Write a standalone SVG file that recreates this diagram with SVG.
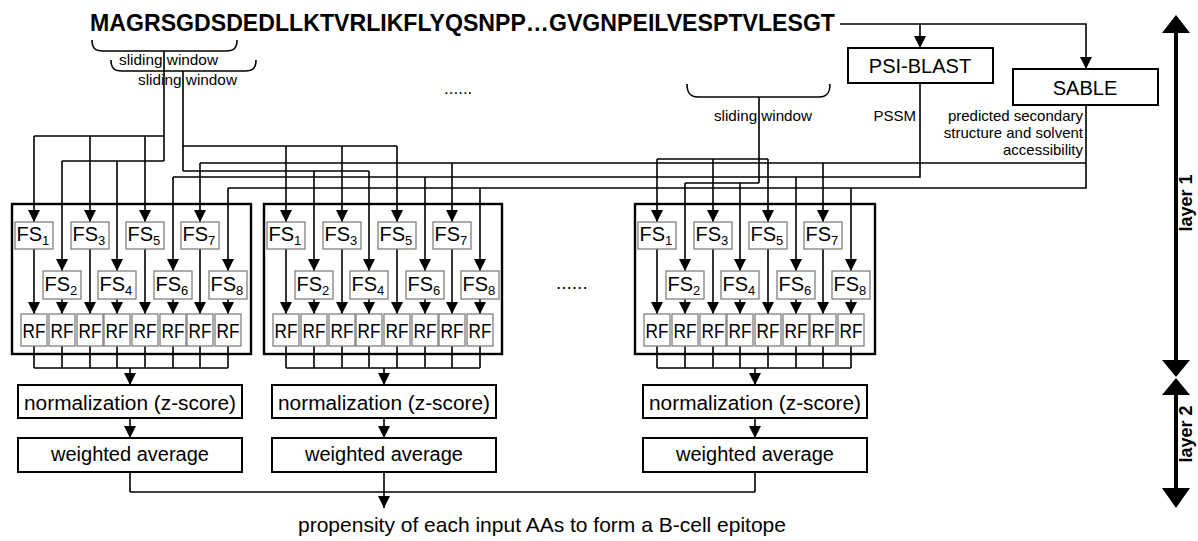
<svg xmlns="http://www.w3.org/2000/svg" width="1198" height="541" viewBox="0 0 1198 541">
<style>
text{font-family:"Liberation Sans",Arial,sans-serif;fill:#000}
.w{stroke:#000;stroke-width:1.6;fill:none}
.a{marker-end:url(#ah)}
.outer{fill:none;stroke:#000;stroke-width:2.4}
.fs{fill:#fff;stroke:#808080;stroke-width:1.3}
.blk{fill:#fff;stroke:#000;stroke-width:2}
.fst{font-size:20px}
.sub{font-size:13px}
.rft{font-size:20px;text-anchor:middle}
.sm{font-size:15px}
.big{font-size:20px;text-anchor:middle}
.lay{font-size:18px;font-weight:bold;text-anchor:middle}
</style>
<defs>
<marker id="ah" markerUnits="userSpaceOnUse" markerWidth="12" markerHeight="12" refX="11" refY="5.5" orient="auto" viewBox="0 0 11 11">
<path d="M0,0 L11,5.5 L0,11 z" fill="#000"/>
</marker>
</defs>
<rect width="1198" height="541" fill="#fff"/>

<g id="sequence">
<text x="90" y="31" font-size="23" font-weight="bold" textLength="745" lengthAdjust="spacingAndGlyphs">MAGRSGDSDEDLLKTVRLIKFLYQSNPP…GVGNPEILVESPTVLESGT</text>
</g>

<g id="windows">
<path class="w" d="M92,40 C92,48 95,51 103,51 H226 C234,51 237,48 237,40"/>
<text class="sm" x="119" y="65" textLength="99" lengthAdjust="spacingAndGlyphs">sliding window</text>
<path class="w" d="M111,60 C111,68 114,71 122,71 H245 C253,71 256,68 256,60"/>
<text class="sm" x="138" y="85" textLength="99" lengthAdjust="spacingAndGlyphs">sliding window</text>
<path class="w" d="M687,84 C687,93 690,97 698,97 H819 C827,97 830,93 830,84"/>
<text class="sm" x="714" y="121" textLength="98" lengthAdjust="spacingAndGlyphs">sliding window</text>
<text x="444" y="94" font-size="17">......</text>
<text x="556" y="289" font-size="19">......</text>
</g>

<g id="psiblast">
<rect class="blk" x="848" y="48" width="145" height="35"/>
<text class="big" x="920" y="73">PSI-BLAST</text>
<text class="sm" x="916" y="121" text-anchor="end">PSSM</text>
</g>

<g id="sable">
<rect class="blk" x="1013" y="69" width="145" height="36"/>
<text class="big" x="1085" y="95" font-size="21">SABLE</text>
<text class="sm" x="1083" y="121" text-anchor="end">predicted secondary</text>
<text class="sm" x="1083" y="138" text-anchor="end">structure and solvent</text>
<text class="sm" x="1083" y="155" text-anchor="end">accessibility</text>
</g>

<g id="connectors">
<path class="w" d="M840,24 H1086 V69" marker-end="url(#ah)"/>
<path class="w a" d="M920,24 V48"/>
<path class="w" d="M164,51 V161 M34,136 H164 M62,161 H164"/>
<path class="w" d="M183,71 V171 M183,146 H397 M183,171 H369"/>
<path class="w" d="M759,97 V183 M657,159 H768 M685,183 H759"/>
<path class="w" d="M920,83 V177 H173"/>
<path class="w" d="M1086,105 V188 H228 M200,163 H1086"/>
<path class="w a" d="M34,136 V222"/><path class="w a" d="M62,161 V271"/>
<path class="w a" d="M90,136 V222"/><path class="w a" d="M117,161 V271"/>
<path class="w a" d="M145,136 V222"/><path class="w a" d="M173,177 V271"/>
<path class="w a" d="M200,163 V222"/><path class="w a" d="M228,188 V271"/>
<path class="w a" d="M286,146 V222"/><path class="w a" d="M314,171 V271"/>
<path class="w a" d="M342,146 V222"/><path class="w a" d="M369,171 V271"/>
<path class="w a" d="M397,146 V222"/><path class="w a" d="M425,177 V271"/>
<path class="w a" d="M452,163 V222"/><path class="w a" d="M480,188 V271"/>
<path class="w a" d="M657,159 V222"/><path class="w a" d="M685,183 V271"/>
<path class="w a" d="M713,159 V222"/><path class="w a" d="M740,183 V271"/>
<path class="w a" d="M768,159 V222"/><path class="w a" d="M796,177 V271"/>
<path class="w a" d="M823,163 V222"/><path class="w a" d="M851,188 V271"/>
<path class="w a" d="M34,249 V314"/><path class="w a" d="M62,299 V314"/><path class="w a" d="M90,249 V314"/><path class="w a" d="M117,299 V314"/>
<path class="w a" d="M145,249 V314"/><path class="w a" d="M173,299 V314"/><path class="w a" d="M200,249 V314"/><path class="w a" d="M228,299 V314"/>
<path class="w a" d="M286,249 V314"/><path class="w a" d="M314,299 V314"/><path class="w a" d="M342,249 V314"/><path class="w a" d="M369,299 V314"/>
<path class="w a" d="M397,249 V314"/><path class="w a" d="M425,299 V314"/><path class="w a" d="M452,249 V314"/><path class="w a" d="M480,299 V314"/>
<path class="w a" d="M657,249 V314"/><path class="w a" d="M685,299 V314"/><path class="w a" d="M713,249 V314"/><path class="w a" d="M740,299 V314"/>
<path class="w a" d="M768,249 V314"/><path class="w a" d="M796,299 V314"/><path class="w a" d="M823,249 V314"/><path class="w a" d="M851,299 V314"/>
<path class="w" d="M34,346 V368 M62,346 V368 M90,346 V368 M117,346 V368 M145,346 V368 M173,346 V368 M200,346 V368 M228,346 V368 M34,368 H228"/>
<path class="w" d="M286,346 V368 M314,346 V368 M342,346 V368 M369,346 V368 M397,346 V368 M425,346 V368 M452,346 V368 M480,346 V368 M286,368 H480"/>
<path class="w" d="M657,346 V368 M685,346 V368 M713,346 V368 M740,346 V368 M768,346 V368 M796,346 V368 M823,346 V368 M851,346 V368 M657,368 H851"/>
<path class="w a" d="M130,368 V385"/><path class="w a" d="M384,368 V385"/><path class="w a" d="M755,368 V385"/>
<path class="w a" d="M130,418 V438"/><path class="w a" d="M384,418 V438"/><path class="w a" d="M755,418 V438"/>
<path class="w" d="M130,472 V492 M384,472 V492 M755,472 V492 M130,492 H755"/>
<path class="w a" d="M384,492 V508"/>
</g>

<g id="box1"><rect class="outer" x="12" y="204" width="239" height="150"/></g>
<g id="box2"><rect class="outer" x="264" y="204" width="238" height="150"/></g>
<g id="box3"><rect class="outer" x="635" y="204" width="240" height="150"/></g>

<g id="b1-fs1"><rect class="fs" x="15" y="222" width="38" height="27"/><text class="fst" x="16.5" y="241">FS<tspan class="sub" dy="4">1</tspan></text></g>
<g id="b1-fs2"><rect class="fs" x="43" y="271" width="38" height="28"/><text class="fst" x="44.5" y="291">FS<tspan class="sub" dy="4">2</tspan></text></g>
<g id="b1-fs3"><rect class="fs" x="71" y="222" width="38" height="27"/><text class="fst" x="72.5" y="241">FS<tspan class="sub" dy="4">3</tspan></text></g>
<g id="b1-fs4"><rect class="fs" x="98" y="271" width="38" height="28"/><text class="fst" x="99.5" y="291">FS<tspan class="sub" dy="4">4</tspan></text></g>
<g id="b1-fs5"><rect class="fs" x="126" y="222" width="38" height="27"/><text class="fst" x="127.5" y="241">FS<tspan class="sub" dy="4">5</tspan></text></g>
<g id="b1-fs6"><rect class="fs" x="154" y="271" width="38" height="28"/><text class="fst" x="155.5" y="291">FS<tspan class="sub" dy="4">6</tspan></text></g>
<g id="b1-fs7"><rect class="fs" x="181" y="222" width="38" height="27"/><text class="fst" x="182.5" y="241">FS<tspan class="sub" dy="4">7</tspan></text></g>
<g id="b1-fs8"><rect class="fs" x="209" y="271" width="38" height="28"/><text class="fst" x="210.5" y="291">FS<tspan class="sub" dy="4">8</tspan></text></g>

<g id="b2-fs1"><rect class="fs" x="267" y="222" width="38" height="27"/><text class="fst" x="268.5" y="241">FS<tspan class="sub" dy="4">1</tspan></text></g>
<g id="b2-fs2"><rect class="fs" x="295" y="271" width="38" height="28"/><text class="fst" x="296.5" y="291">FS<tspan class="sub" dy="4">2</tspan></text></g>
<g id="b2-fs3"><rect class="fs" x="323" y="222" width="38" height="27"/><text class="fst" x="324.5" y="241">FS<tspan class="sub" dy="4">3</tspan></text></g>
<g id="b2-fs4"><rect class="fs" x="350" y="271" width="38" height="28"/><text class="fst" x="351.5" y="291">FS<tspan class="sub" dy="4">4</tspan></text></g>
<g id="b2-fs5"><rect class="fs" x="378" y="222" width="38" height="27"/><text class="fst" x="379.5" y="241">FS<tspan class="sub" dy="4">5</tspan></text></g>
<g id="b2-fs6"><rect class="fs" x="406" y="271" width="38" height="28"/><text class="fst" x="407.5" y="291">FS<tspan class="sub" dy="4">6</tspan></text></g>
<g id="b2-fs7"><rect class="fs" x="433" y="222" width="38" height="27"/><text class="fst" x="434.5" y="241">FS<tspan class="sub" dy="4">7</tspan></text></g>
<g id="b2-fs8"><rect class="fs" x="461" y="271" width="38" height="28"/><text class="fst" x="462.5" y="291">FS<tspan class="sub" dy="4">8</tspan></text></g>

<g id="b3-fs1"><rect class="fs" x="638" y="222" width="38" height="27"/><text class="fst" x="639.5" y="241">FS<tspan class="sub" dy="4">1</tspan></text></g>
<g id="b3-fs2"><rect class="fs" x="666" y="271" width="38" height="28"/><text class="fst" x="667.5" y="291">FS<tspan class="sub" dy="4">2</tspan></text></g>
<g id="b3-fs3"><rect class="fs" x="694" y="222" width="38" height="27"/><text class="fst" x="695.5" y="241">FS<tspan class="sub" dy="4">3</tspan></text></g>
<g id="b3-fs4"><rect class="fs" x="721" y="271" width="38" height="28"/><text class="fst" x="722.5" y="291">FS<tspan class="sub" dy="4">4</tspan></text></g>
<g id="b3-fs5"><rect class="fs" x="749" y="222" width="38" height="27"/><text class="fst" x="750.5" y="241">FS<tspan class="sub" dy="4">5</tspan></text></g>
<g id="b3-fs6"><rect class="fs" x="777" y="271" width="38" height="28"/><text class="fst" x="778.5" y="291">FS<tspan class="sub" dy="4">6</tspan></text></g>
<g id="b3-fs7"><rect class="fs" x="804" y="222" width="38" height="27"/><text class="fst" x="805.5" y="241">FS<tspan class="sub" dy="4">7</tspan></text></g>
<g id="b3-fs8"><rect class="fs" x="832" y="271" width="38" height="28"/><text class="fst" x="833.5" y="291">FS<tspan class="sub" dy="4">8</tspan></text></g>

<g id="b1-rf">
<g id="b1-rf1"><rect class="fs" x="21" y="314" width="26" height="32"/><text class="rft" x="34" y="338" textLength="23" lengthAdjust="spacingAndGlyphs">RF</text></g>
<g id="b1-rf2"><rect class="fs" x="49" y="314" width="26" height="32"/><text class="rft" x="62" y="338" textLength="23" lengthAdjust="spacingAndGlyphs">RF</text></g>
<g id="b1-rf3"><rect class="fs" x="77" y="314" width="26" height="32"/><text class="rft" x="90" y="338" textLength="23" lengthAdjust="spacingAndGlyphs">RF</text></g>
<g id="b1-rf4"><rect class="fs" x="104" y="314" width="26" height="32"/><text class="rft" x="117" y="338" textLength="23" lengthAdjust="spacingAndGlyphs">RF</text></g>
<g id="b1-rf5"><rect class="fs" x="132" y="314" width="26" height="32"/><text class="rft" x="145" y="338" textLength="23" lengthAdjust="spacingAndGlyphs">RF</text></g>
<g id="b1-rf6"><rect class="fs" x="160" y="314" width="26" height="32"/><text class="rft" x="173" y="338" textLength="23" lengthAdjust="spacingAndGlyphs">RF</text></g>
<g id="b1-rf7"><rect class="fs" x="187" y="314" width="26" height="32"/><text class="rft" x="200" y="338" textLength="23" lengthAdjust="spacingAndGlyphs">RF</text></g>
<g id="b1-rf8"><rect class="fs" x="215" y="314" width="26" height="32"/><text class="rft" x="228" y="338" textLength="23" lengthAdjust="spacingAndGlyphs">RF</text></g>
</g>
<g id="b2-rf">
<g id="b2-rf1"><rect class="fs" x="273" y="314" width="26" height="32"/><text class="rft" x="286" y="338" textLength="23" lengthAdjust="spacingAndGlyphs">RF</text></g>
<g id="b2-rf2"><rect class="fs" x="301" y="314" width="26" height="32"/><text class="rft" x="314" y="338" textLength="23" lengthAdjust="spacingAndGlyphs">RF</text></g>
<g id="b2-rf3"><rect class="fs" x="329" y="314" width="26" height="32"/><text class="rft" x="342" y="338" textLength="23" lengthAdjust="spacingAndGlyphs">RF</text></g>
<g id="b2-rf4"><rect class="fs" x="356" y="314" width="26" height="32"/><text class="rft" x="369" y="338" textLength="23" lengthAdjust="spacingAndGlyphs">RF</text></g>
<g id="b2-rf5"><rect class="fs" x="384" y="314" width="26" height="32"/><text class="rft" x="397" y="338" textLength="23" lengthAdjust="spacingAndGlyphs">RF</text></g>
<g id="b2-rf6"><rect class="fs" x="412" y="314" width="26" height="32"/><text class="rft" x="425" y="338" textLength="23" lengthAdjust="spacingAndGlyphs">RF</text></g>
<g id="b2-rf7"><rect class="fs" x="439" y="314" width="26" height="32"/><text class="rft" x="452" y="338" textLength="23" lengthAdjust="spacingAndGlyphs">RF</text></g>
<g id="b2-rf8"><rect class="fs" x="467" y="314" width="26" height="32"/><text class="rft" x="480" y="338" textLength="23" lengthAdjust="spacingAndGlyphs">RF</text></g>
</g>
<g id="b3-rf">
<g id="b3-rf1"><rect class="fs" x="644" y="314" width="26" height="32"/><text class="rft" x="657" y="338" textLength="23" lengthAdjust="spacingAndGlyphs">RF</text></g>
<g id="b3-rf2"><rect class="fs" x="672" y="314" width="26" height="32"/><text class="rft" x="685" y="338" textLength="23" lengthAdjust="spacingAndGlyphs">RF</text></g>
<g id="b3-rf3"><rect class="fs" x="700" y="314" width="26" height="32"/><text class="rft" x="713" y="338" textLength="23" lengthAdjust="spacingAndGlyphs">RF</text></g>
<g id="b3-rf4"><rect class="fs" x="727" y="314" width="26" height="32"/><text class="rft" x="740" y="338" textLength="23" lengthAdjust="spacingAndGlyphs">RF</text></g>
<g id="b3-rf5"><rect class="fs" x="755" y="314" width="26" height="32"/><text class="rft" x="768" y="338" textLength="23" lengthAdjust="spacingAndGlyphs">RF</text></g>
<g id="b3-rf6"><rect class="fs" x="783" y="314" width="26" height="32"/><text class="rft" x="796" y="338" textLength="23" lengthAdjust="spacingAndGlyphs">RF</text></g>
<g id="b3-rf7"><rect class="fs" x="810" y="314" width="26" height="32"/><text class="rft" x="823" y="338" textLength="23" lengthAdjust="spacingAndGlyphs">RF</text></g>
<g id="b3-rf8"><rect class="fs" x="838" y="314" width="26" height="32"/><text class="rft" x="851" y="338" textLength="23" lengthAdjust="spacingAndGlyphs">RF</text></g>
</g>

<g id="norm1"><rect class="blk" x="18" y="385" width="224" height="33"/><text class="big" x="130" y="410" textLength="212" lengthAdjust="spacingAndGlyphs">normalization (z-score)</text></g>
<g id="norm2"><rect class="blk" x="272" y="385" width="224" height="33"/><text class="big" x="384" y="410" textLength="212" lengthAdjust="spacingAndGlyphs">normalization (z-score)</text></g>
<g id="norm3"><rect class="blk" x="643" y="385" width="224" height="33"/><text class="big" x="755" y="410" textLength="212" lengthAdjust="spacingAndGlyphs">normalization (z-score)</text></g>

<g id="wavg1"><rect class="blk" x="18" y="438" width="224" height="34"/><text class="big" x="130" y="461">weighted average</text></g>
<g id="wavg2"><rect class="blk" x="272" y="438" width="224" height="34"/><text class="big" x="384" y="461">weighted average</text></g>
<g id="wavg3"><rect class="blk" x="643" y="438" width="224" height="34"/><text class="big" x="755" y="461">weighted average</text></g>

<g id="output">
<text x="298" y="532" font-size="21">propensity of each input AAs to form a B-cell epitope</text>
</g>

<g id="layers">
<path d="M1176,31 V361 M1176,393 V490" stroke="#000" stroke-width="4" fill="none"/>
<path d="M1176,15 L1190,33 L1162,33 z M1162,360 L1190,360 L1176,377 z M1176,378 L1190,395 L1162,395 z M1162,488 L1190,488 L1176,508 z" fill="#000"/>
<text class="lay" transform="translate(1192,203) rotate(-90)">layer 1</text>
<text class="lay" transform="translate(1192,434) rotate(-90)">layer 2</text>
</g>
</svg>
